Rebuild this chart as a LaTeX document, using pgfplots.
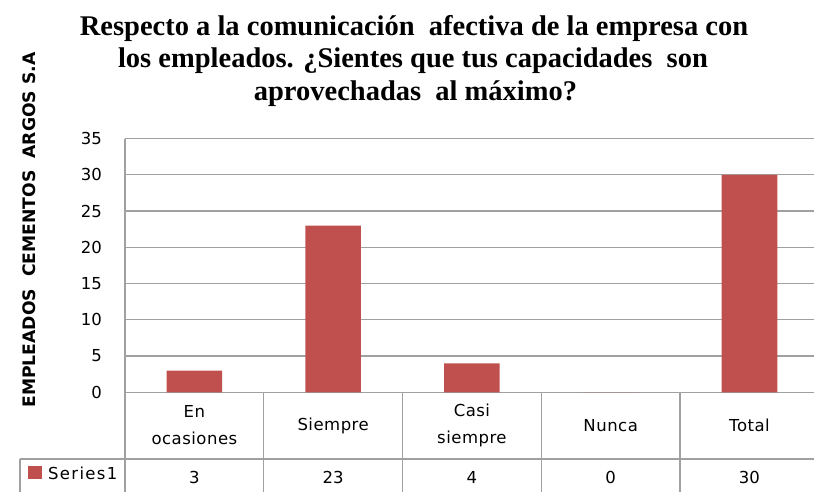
\documentclass[border=0pt]{standalone}
\usepackage{fontspec}
\setmainfont{DejaVu Sans}
\newfontfamily\titlefont{Liberation Serif}
\newfontfamily\spacedfont[LetterSpace=8]{DejaVu Sans}
\newfontfamily\catfont[LetterSpace=3]{DejaVu Sans}
\usepackage{pgfplots}
\pgfplotsset{compat=1.18}
\definecolor{barred}{HTML}{C0504D}
\definecolor{gridgray}{HTML}{A0A0A0}
\begin{document}
\begin{tikzpicture}[x=1pt,y=1pt]
\useasboundingbox (0,0) rectangle (814,-491);
\clip (0,0) rectangle (814,-491);
\node[anchor=base,inner sep=0,font=\titlefont\bfseries\fontsize{28.5}{32.5}\selectfont] at (414,-35) {Respecto a la comunicación\ \ afectiva de la empresa con};
\node[anchor=base,inner sep=0,font=\titlefont\bfseries\fontsize{28.5}{32.5}\selectfont] at (413,-67.5) {los empleados. ¿Sientes que tus capacidades\ \ son};
\node[anchor=base,inner sep=0,font=\titlefont\bfseries\fontsize{28.5}{32.5}\selectfont] at (415.5,-100) {aprovechadas\ \ al máximo?};
\node[rotate=90,inner sep=0,font=\bfseries\fontsize{17.2}{20}\selectfont] at (29,-230) {EMPLEADOS\ \ CEMENTOS\ \ ARGOS S.A};
\begin{axis}[
  at={(125pt,-392.3pt)}, anchor=south west,
  scale only axis, width=689pt, height=253.8pt,
  xmin=-0.5, xmax=4.465, ymin=0, ymax=35,
  ytick={0,5,...,35},
  xtick={0,1,2,3,4},
  xticklabels={{En\\ocasiones},{Siempre},{Casi\\siempre},{Nunca},{Total}},
  axis x line=bottom, axis y line=left,
  axis line style={-, draw=gridgray, line width=1.3pt},
  ymajorgrids, grid style={draw=gridgray, line width=1.3pt},
  major tick length=0pt,
  /pgf/number format/assume math mode=true,
  yticklabel style={anchor=east, inner sep=0pt, xshift=-23pt, font=\fontsize{16.5}{20}\selectfont},
  xticklabel style={anchor=center, inner sep=0pt, yshift=-33.2pt, align=center, font=\catfont\fontsize{16.5}{27}\selectfont},
  ybar, bar width=55.6pt,
  clip=false,
]
\addplot[fill=barred, draw=none] coordinates {(0,3) (1,23) (2,4) (3,0) (4,30)};
% table grid
\draw[draw=gridgray, line width=1.3pt] (axis cs:-0.5,0) -- ([yshift=-110pt]axis cs:-0.5,0);
\draw[draw=gridgray, line width=1.3pt] (axis cs:0.5,0) -- ([yshift=-110pt]axis cs:0.5,0);
\draw[draw=gridgray, line width=1.3pt] (axis cs:1.5,0) -- ([yshift=-110pt]axis cs:1.5,0);
\draw[draw=gridgray, line width=1.3pt] (axis cs:2.5,0) -- ([yshift=-110pt]axis cs:2.5,0);
\draw[draw=gridgray, line width=1.3pt] (axis cs:3.5,0) -- ([yshift=-110pt]axis cs:3.5,0);
\draw[draw=gridgray, line width=1.3pt] ([xshift=-105pt,yshift=-66.7pt]axis cs:-0.5,0) -- ([yshift=-66.7pt]axis cs:4.465,0);
\draw[draw=gridgray, line width=1.3pt] ([xshift=-105pt,yshift=-66.7pt]axis cs:-0.5,0) -- ([xshift=-105pt,yshift=-110pt]axis cs:-0.5,0);
% legend key
\fill[barred] ([xshift=-97pt,yshift=-73.7pt]axis cs:-0.5,0) rectangle ([xshift=-83pt,yshift=-86.7pt]axis cs:-0.5,0);
\node[anchor=west, inner sep=0pt, font=\spacedfont\fontsize{16.5}{20}\selectfont] at ([xshift=-77pt,yshift=-81.5pt]axis cs:-0.5,0) {Series1};
% values row
\node[inner sep=0pt, font=\fontsize{16.5}{20}\selectfont] at ([yshift=-84.7pt]axis cs:0,0) {3};
\node[inner sep=0pt, font=\fontsize{16.5}{20}\selectfont] at ([yshift=-84.7pt]axis cs:1,0) {23};
\node[inner sep=0pt, font=\fontsize{16.5}{20}\selectfont] at ([yshift=-84.7pt]axis cs:2,0) {4};
\node[inner sep=0pt, font=\fontsize{16.5}{20}\selectfont] at ([yshift=-84.7pt]axis cs:3,0) {0};
\node[inner sep=0pt, font=\fontsize{16.5}{20}\selectfont] at ([yshift=-84.7pt]axis cs:4,0) {30};
\end{axis}
\end{tikzpicture}
\end{document}
